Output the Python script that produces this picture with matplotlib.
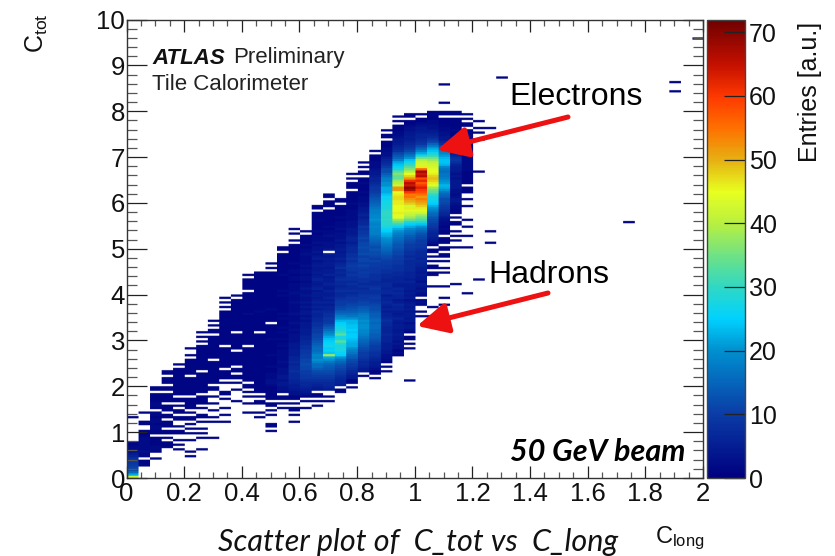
import numpy as np
import matplotlib
matplotlib.use("Agg")
import matplotlib.pyplot as plt
import matplotlib.patheffects as pe
from matplotlib.cm import ScalarMappable
from matplotlib.colors import LinearSegmentedColormap, Normalize
from matplotlib.ticker import MultipleLocator

# 50 x bins on 0..2, 200 y bins on 0..10. first filled y bin of each column, then the entries
col_start = [0, 5, 8, 13, 12, 9, 12, 17, 24, 33, 28, 26, 20, 30, 24, 30, 31, 33, 37, 39,
             44, 43, 45, 53, 56, 75, 88, 88, 100, 105]
col_counts = [
    [42,22,16,12,11,10,9,9,8,6,5,3,2,2,1,1,0,0,0,0,0,0,0,0,0,0,1],
    [1,1,1,0,2,2,3,2,2,2,2,2,2,1,1,1,0,0,1,1,0,0,0,1],
    [1,0,0,1,2,2,1,1,1,1,0,1,1,2,2,1,2,2,1,2,2,0,1,2,2,1,1,1,1,0,1,1,0],
    [1,1,1,0,1,0,1,1,0,1,1,1,0,1,1,0,1,1,1,0,1,1,1,1,0,1,1,0,1,1,1,0,1,1],
    [1,0,1,0,1,0,0,1,1,0,1,0,0,1,1,0,1,1,0,1,0,1,1,0,1,1,1,1,1,1,1,1,1,1,1,1,0,1],
    [1,0,1,0,0,0,0,1,0,0,1,0,1,0,1,0,1,1,0,1,0,1,1,1,1,1,0,1,1,1,1,1,1,1,1,0,1,1,1,1,
     1,1,1,0,1,0,0,1],
    [1,0,0,0,0,1,0,1,0,1,0,0,1,0,1,1,0,0,1,0,1,1,1,1,0,1,1,1,1,1,1,1,1,1,0,1,1,1,1,1,
     1,1,1,1,1,1,0,1,0,1,0,1],
    [1,0,0,0,0,0,0,1,0,1,0,0,1,0,0,1,0,0,1,0,0,1,1,0,1,1,1,1,1,1,1,1,1,1,0,1,1,1,1,1,
     1,1,1,1,1,0,1,1,0,1,0,1],
    [1,0,0,1,0,0,1,0,0,0,1,0,1,1,0,0,0,1,0,1,1,1,1,0,1,1,1,1,1,1,1,1,1,0,1,1,1,1,1,1,
     1,1,1,1,1,1,1,1,1,0,1,0,1,0,1],
    [1,0,0,0,0,1,0,0,1,0,1,1,0,1,1,0,1,1,1,1,1,1,0,1,1,1,1,1,1,1,0,1,1,1,1,1,1,1,1,1,
     1,1,1,1,1,0,1],
    [1,0,0,0,1,0,0,1,0,1,0,1,1,0,1,1,1,1,1,1,1,1,1,1,1,1,1,1,1,0,1,1,1,1,1,1,1,1,1,1,
     1,1,1,2,1,1,1,1,1,1,1,1,1,0,1,1,1,1,1,0,1],
    [1,0,1,0,0,0,1,1,0,1,0,1,1,1,1,1,1,1,1,1,1,1,1,1,1,1,1,1,1,1,1,1,1,1,1,1,1,0,1,1,
     1,1,1,1,1,1,2,1,1,1,1,1,1,1,1,1,1,1,1,1,1,1,1,1,0],
    [1,0,1,1,0,0,0,1,0,1,0,1,1,0,1,1,1,1,1,1,2,3,3,2,2,2,1,1,2,1,1,1,1,2,1,1,1,1,1,1,
     2,1,1,1,1,1,1,0,1,1,1,1,1,2,1,1,1,1,1,1,1,1,1,1,1,1,1,1,1,1,0,1,0,1],
    [1,0,1,0,1,1,0,2,3,3,4,4,3,4,4,3,3,3,2,2,3,2,2,2,2,2,1,2,2,1,2,1,1,2,1,2,1,1,1,2,
     1,2,1,1,1,1,1,1,1,2,1,2,1,1,1,1,1,1,2,1,1,1,1,1,1,1,1,1,0,1,1],
    [1,0,0,1,0,1,1,0,1,0,1,1,3,3,4,5,5,6,6,7,7,7,8,7,7,6,7,6,6,5,5,5,4,4,4,3,3,3,3,2,
     3,2,2,3,2,2,2,3,2,2,2,2,3,2,2,2,3,2,2,2,2,1,2,2,1,2,2,1,1,2,1,1,1,1,1,1,1,1,0,1,
     0,0,1,0,1,0],
    [1,0,0,1,0,1,3,4,5,6,7,7,8,9,9,10,10,11,11,12,11,11,10,10,9,9,8,8,7,7,6,6,5,5,5,4,4,4,3,4,
     3,4,4,3,4,3,4,3,3,4,3,3,4,3,3,2,3,3,2,3,3,2,3,2,2,2,2,3,2,2,1,2,1,1,1,1,0,1],
    [1,0,1,0,1,1,0,4,5,6,7,8,9,10,11,12,14,16,16,18,20,18,19,17,16,16,15,14,13,12,11,11,10,10,9,8,8,7,7,6,
     6,7,5,6,5,6,5,4,5,5,4,6,5,4,5,6,5,4,5,4,4,5,4,3,5,4,3,4,3,3,2,3,2,2,2,1,2,1,1,1,
     1,1,1,1,1,0,1,1],
    [1,0,1,0,0,5,6,7,7,8,9,10,11,12,13,14,15,17,20,22,38,24,26,25,27,26,25,24,22,20,18,16,14,12,10,9,9,8,8,7,6,
     6,5,6,5,6,5,5,6,4,5,6,5,5,4,6,5,5,4,5,5,4,5,4,5,0,4,3,3,3,2,2,3,2,2,1,2,1,1,1,1,
     1,1,1,0,1,1,1,0,1,1],
    [1,1,0,5,6,6,7,8,9,10,11,12,13,15,17,20,25,26,27,28,27,29,33,28,27,33,30,28,27,26,25,23,20,18,16,14,12,11,10,10,
     9,8,7,7,8,7,6,7,7,8,7,6,7,6,8,7,6,5,6,5,5,4,5,4,4,3,4,3,3,3,2,3,2,2,2,1,2,1,1,1,
     1,1,0,1,1,0],
    [1,0,1,1,4,5,6,7,8,9,10,11,12,14,15,17,18,20,22,22,23,24,25,25,24,25,24,24,23,23,20,17,16,14,13,12,11,10,9,9,
     8,7,8,7,7,8,7,8,8,9,8,9,9,10,9,8,9,8,8,7,7,7,6,5,6,6,5,4,4,4,3,3,3,2,2,2,2,2,1,1,
     2,1,1,1,1,1,0,1,1,1,0,1,0,1],
    [1,0,4,5,6,7,7,8,9,10,10,11,12,13,14,15,16,17,18,19,19,20,20,19,20,18,18,17,15,14,13,11,11,10,9,9,8,8,7,8,
     7,8,8,9,9,10,9,10,11,10,11,11,10,12,11,11,12,11,11,10,11,10,9,9,8,9,7,7,6,5,6,5,4,4,3,3,2,2,2,1,
     2,1,1,1,2,1,1,0,1,1,0,1,0,1],
    [1,0,1,1,3,4,5,5,6,7,8,8,9,10,10,11,12,13,14,14,15,15,16,16,15,16,15,14,14,13,12,12,11,10,9,10,9,8,8,9,
     8,7,7,8,8,8,9,9,9,10,10,11,10,11,12,12,13,12,13,14,15,16,17,18,18,18,19,18,19,20,19,19,18,18,17,16,15,14,13,12,
     11,10,9,9,8,7,6,6,5,4,4,3,2,2,2,1,1,1,0,1],
    [0,1,0,1,0,1,2,3,3,4,4,5,5,5,6,6,6,7,6,6,6,7,7,8,7,6,6,5,6,5,6,7,6,6,5,7,7,6,7,7,
     6,6,7,7,8,8,9,9,10,10,11,12,13,14,15,16,17,18,19,20,22,23,25,26,28,29,29,30,29,30,30,29,28,28,27,27,26,26,24,22,
     22,22,20,20,18,18,16,14,12,12,10,8,7,6,5,3,3,2,2,1,1,1,0,1,1,0,1],
    [1,2,1,3,3,4,3,4,4,5,4,4,5,5,4,5,6,5,4,5,6,6,7,5,4,6,6,7,6,7,5,5,6,6,6,7,7,8,8,8,
     9,9,10,10,11,11,12,13,13,14,15,16,17,18,20,22,26,30,34,38,44,44,46,45,45,45,46,46,47,47,
     46,45,52,52,42,40,38,34,34,36,33,28,26,24,22,18,15,13,11,8,7,6,5,4,4,3,2,2,1,1,1,0,1,0,1],
    [1,0,1,0,1,1,0,1,3,4,4,3,5,4,5,5,4,5,4,5,4,3,5,4,5,4,5,5,5,6,5,6,6,6,7,7,7,7,7,8,
     7,8,8,9,10,10,11,12,13,14,16,17,19,22,25,28,34,38,41,42,44,46,43,48,50,52,55,54,60,67,
     70,64,66,61,52,48,45,40,36,33,30,27,24,20,17,14,11,9,8,7,6,5,5,4,4,3,3,2,1,1,0,1,1],
    [2,3,2,0,2,3,4,3,4,5,3,4,4,5,4,5,5,6,6,7,6,7,7,7,8,9,9,10,10,11,12,13,15,17,20,24,28,32,35,38,
     42,44,46,48,50,52,54,52,55,58,60,63,60,57,62,58,66,64,68,56,46,43,42,40,35,27,22,18,15,12,
     9,8,7,6,6,5,4,4,3,2,1,1,0,1,0],
    [1,1,0,1,1,0,1,0,1,0,1,1,0,1,3,4,5,6,6,7,8,9,10,11,12,13,15,16,18,20,22,25,26,27,
     28,30,33,35,38,44,46,48,49,48,46,45,44,43,42,41,38,35,30,27,24,22,18,15,11,9,7,6,5,4,3,3,2,2,1,1,1,1],
    [0,1,0,1,0,0,1,0,1,1,0,1,1,0,1,1,1,0,1,1,2,1,2,2,3,4,6,7,8,9,10,11,12,12,14,15,17,20,22,23,
     21,20,18,17,17,16,17,19,23,24,24,23,21,19,18,15,12,8,6,4,4,3,3,2,2,1,1,1,1,0,1,1],
    [1,0,0,1,0,1,0,1,0,0,1,1,0,1,0,1,1,2,2,3,4,4,3,2,3,3,4,4,4,4,3,4,3,4,5,5,6,8,9,8,
     6,5,4,3,3,2,2,2,2,1,1,2,1,1,1,1,1,0,1,1,0],
    [1,0,0,0,1,0,0,1,0,0,0,0,0,1,0,0,1,0,0,1,1,1,0,1,1,1,1,1,1,2,2,2,2,2,2,1,2,2,1,1,
     1,1,1,2,2,1,1,0,1,1,0,1,0,1],
]
# single isolated entries away from the main body: column, y bin
stray_cols = [24, 25, 25, 26, 26, 26, 27, 27, 27, 27, 27, 28, 29, 29, 30, 30, 30, 30, 30, 30, 31, 31, 31, 32, 43, 47, 47, 49]
stray_bins = [42, 70, 72, 70, 74, 83, 75, 78, 83, 163, 171, 84, 80, 100, 86, 133, 147, 150, 152, 155, 102, 107, 152, 174, 111, 168, 172, 191]

ticks_x = [0, 0.2, 0.4, 0.6, 0.8, 1, 1.2, 1.4, 1.6, 1.8, 2]
tick_labels_x = ["0", "0.2", "0.4", "0.6", "0.8", "1", "1.2", "1.4", "1.6", "1.8", "2"]
ticks_y = [0, 1, 2, 3, 4, 5, 6, 7, 8, 9, 10]
ticks_z = [0, 10, 20, 30, 40, 50, 60, 70]

plt.rcParams["font.family"] = "Liberation Sans"
plt.rcParams["mathtext.default"] = "regular"

grid = np.zeros((200, 50))
for k, vals in enumerate(col_counts):
    for i, v in enumerate(vals):
        grid[col_start[k] + i, k] = v
for k, j in zip(stray_cols, stray_bins):
    grid[j, k] = 1

stops = [(0, "#000080"), (10/72, "#0a3ca6"), (20/72, "#0090d0"), (25/72, "#00d2ff"),
         (30/72, "#30d8c4"), (35/72, "#70e284"), (40/72, "#b8f040"), (45/72, "#e8ff20"),
         (50/72, "#e6b012"), (55/72, "#ff7000"), (60/72, "#ff3800"), (65/72, "#c41000"),
         (1, "#700000")]
cmap = LinearSegmentedColormap.from_list("root", stops, N=256)
cmap.set_bad("white")
norm = Normalize(0, 72)

W, H = 835.0, 556.0
fig = plt.figure(figsize=(W / 100, H / 100), dpi=100)
ax = fig.add_axes([126.5 / W, 1 - 478 / H, (703 - 126.5) / W, (478 - 19.5) / H])

# repeat the cells so that the downscale softens the thin rows the way the picture does
rgb = cmap(norm(np.ma.masked_equal(grid, 0)))
rgb = np.repeat(np.repeat(rgb, 8, axis=0), 12, axis=1)
ax.imshow(rgb, origin="lower", extent=(0, 2, 0, 10), aspect="auto", interpolation="hanning")

ax.set_xlim(0, 2)
ax.set_ylim(0, 10)
ax.set_xticks(ticks_x)
ax.set_xticklabels(tick_labels_x)
ax.set_yticks(ticks_y)
ax.xaxis.set_minor_locator(MultipleLocator(0.05))
ax.yaxis.set_minor_locator(MultipleLocator(0.2))
ax.tick_params(axis="x", which="major", direction="in", top=True, length=8.6, width=0.9,
               labelsize=18.5, pad=3, color="#222222", labelcolor="#111111")
ax.tick_params(axis="x", which="minor", direction="in", top=True, length=4.4, width=0.9, color="#555555")
ax.tick_params(axis="y", which="major", direction="in", right=True, length=14.4, width=0.9,
               labelsize=18.5, pad=1, color="#222222", labelcolor="#111111")
ax.tick_params(axis="y", which="minor", direction="in", right=True, length=7.2, width=0.9, color="#555555")
for s in ax.spines.values():
    s.set_linewidth(1.0)
    s.set_color("#333333")

cax = fig.add_axes([707 / W, 1 - 478 / H, (745 - 707) / W, (478 - 19.5) / H])
cb = fig.colorbar(ScalarMappable(norm=norm, cmap=cmap), cax=cax)
cb.set_ticks(ticks_z)
cb.ax.tick_params(direction="in", length=15, width=0.9, labelsize=18, pad=3, color="#222222", labelcolor="#111111")
cb.outline.set_linewidth(1.0)
cb.outline.set_edgecolor("#444444")


def put(px, py, s, **kw):
    return fig.text(px / W, 1 - py / H, s, **kw)


put(37, 13, r"C$_{tot}$", rotation=90, ha="center", va="top", fontsize=18, color="#111111")
put(655, 538, r"C$_{long}$", ha="left", va="center", fontsize=17, color="#111111")
put(810, 22, "Entries [a.u.]", rotation=90, ha="center", va="top", fontsize=18, color="#111111")

put(152, 58, "ATLAS", ha="left", va="center", fontsize=16, weight="bold", style="italic", color="#111111")
put(233, 58, "Preliminary", ha="left", va="center", fontsize=16, color="#222222")
put(152, 85, "Tile Calorimeter", ha="left", va="center", fontsize=16, color="#222222")

put(509, 97, "Electrons", ha="left", va="center", fontsize=23, color="black")
put(488, 275, "Hadrons", ha="left", va="center", fontsize=23, color="black")
put(510, 452, "50 GeV beam", ha="left", va="center", fontsize=22, family="Lato",
    weight="bold", style="italic", color="black", zorder=10)
put(218, 542, "Scatter plot of  C_tot vs  C_long", ha="left", va="center", fontsize=22,
    family="Lato", style="italic", color="#111111")

for tail, tip in [((568, 117), (437, 150)), ((548, 293), (417, 326))]:
    ax.annotate("", xy=(tip[0], H - tip[1]), xytext=(tail[0], H - tail[1]),
                xycoords="figure pixels", textcoords="figure pixels",
                arrowprops=dict(arrowstyle="-|>,head_length=0.85,head_width=0.42", color="#ee1111",
                                lw=3.6, shrinkA=0, shrinkB=0, mutation_scale=22,
                                path_effects=[pe.SimplePatchShadow(offset=(1, -1.5), alpha=0.25), pe.Normal()]))

fig.savefig("out.png", dpi=100)
